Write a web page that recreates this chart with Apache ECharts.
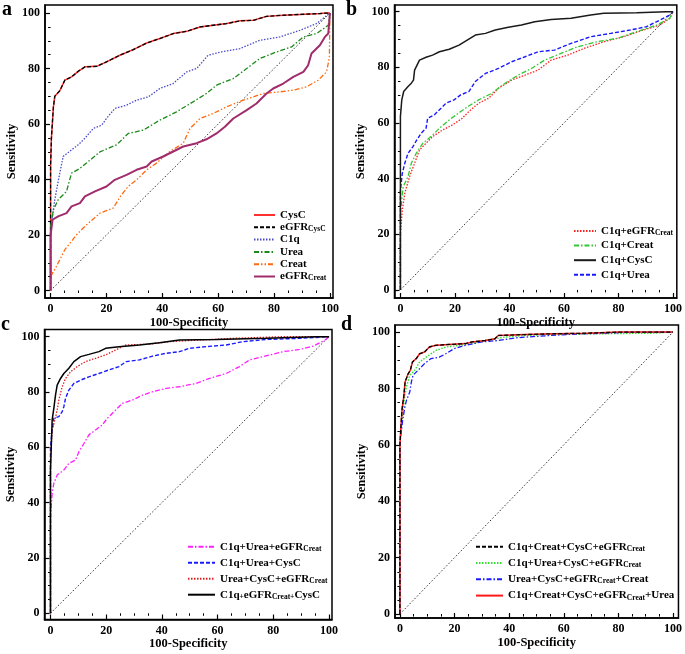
<!DOCTYPE html>
<html>
<head>
<meta charset="utf-8">
<script src="https://cdn.jsdelivr.net/npm/echarts@6/dist/echarts.min.js"></script>
<style>
  html, body { margin: 0; padding: 0; background: #fff; }
  #chart { width: 685px; height: 654px; }
</style>
</head>
<body>
<div id="chart"></div>
<script>
// axis ticks
const majorTicks = [0, 20, 40, 60, 80, 100];
const minorTicks = [5, 10, 15, 25, 30, 35, 45, 50, 55, 65, 70, 75, 85, 90, 95];
const diagonal = [[0, 0], [100, 100]];

// panel a: [100-specificity, sensitivity]
const aCysC = [[0,0],[0,45],[0.3,55],[1,66],[1.5,70],[3.3,72],[5.1,75.8],[7.5,77],[9.9,79],[12.3,80.6],[16.5,80.8],[20,82.4],[24.8,84.8],[29.6,86.8],[34.4,89.2],[39.1,90.8],[43.9,92.6],[48.7,93.4],[53.5,95],[58.2,95.6],[63,96.2],[67.8,97.2],[72.6,97.4],[77.3,98.8],[83.3,99.2],[89.3,99.5],[96.4,99.8],[98.8,100],[100,100]];
const aEgfrCysC = aCysC;
const aC1q = [[0,0],[0,22],[1.5,32.7],[2.7,39.3],[4.5,48.3],[7.5,50.7],[9.9,52.5],[12.3,54.9],[15.3,58.4],[18.3,59.6],[20,62],[23,65.6],[27.2,66.8],[30.8,68.6],[35,69.8],[39.1,72.8],[43.9,74.6],[48.7,78.8],[52.3,80],[56.4,84.8],[61.2,86],[67.8,87.2],[74.9,90.2],[82.1,91.4],[89.3,93.8],[95.2,96.2],[100,100]];
const aUrea = [[0,0],[0,23],[1,29],[2.7,32.7],[5.7,35.7],[7.5,42.3],[10.5,44],[14.1,47],[17.7,50],[23.6,52.5],[27.8,56.6],[33.2,57.8],[39.1,61.4],[45.1,64.4],[51,68],[55.8,71],[59.4,74],[65.4,76.4],[70.2,80],[74.9,83.6],[80.9,86],[86.3,87.8],[90.5,91.4],[95.2,92.6],[99.4,95.6],[100,100]];
const aCreat = [[0,0],[0,5],[2.1,8.7],[5.1,14.7],[9.3,20.1],[12.9,23.7],[17.7,27.9],[22.4,29.7],[25.4,34.5],[27.8,37.5],[30.8,39.9],[34.4,43.5],[37.9,45.9],[42.7,50.1],[47.5,53.1],[49.9,58.4],[53.5,62],[58.2,63.8],[63,66.2],[69,68.6],[76.1,71],[82.1,71.6],[86.9,72.2],[91.6,73.4],[95.8,75.8],[98.8,78.8],[99.8,84],[100,100]];
const aEgfrCreat = [[0,0],[0,20],[0.7,25.5],[2.7,26.7],[5.7,27.9],[7.5,30.3],[10.5,31.5],[12.3,33.9],[15.9,35.7],[20,37.5],[23,39.9],[27.2,41.7],[30.8,43.5],[34.4,44.7],[36.2,46.5],[40.3,48.3],[43.9,50.1],[47.5,51.9],[52.3,53.1],[55.8,54.5],[59.4,56.6],[62.4,59],[65.4,62],[70.2,65],[73.7,67.4],[77.3,71],[79.7,72.8],[83.3,74.6],[86.9,77],[90.5,78.8],[92.2,81.2],[93.4,85.4],[96.4,88.4],[98.2,91.4],[99.4,92.6],[99.8,97.4],[100,100]];

// panel b
const bC1qEgfrCreat = [[0,0],[0,20.4],[0.7,28.7],[1.6,34.7],[2.8,38.9],[4,42.5],[5.2,45.5],[7,50.3],[9.4,52.7],[11.8,55.1],[15.5,57.5],[19.1,59.3],[22.7,61.7],[25.1,64.1],[28.7,67.1],[32.4,68.9],[36,72.5],[40.8,75.4],[45.7,77.2],[50.5,79],[55.3,82.6],[61.4,84.4],[67.4,86.8],[74.6,89.2],[81.9,91],[89.1,93.4],[95.2,95.2],[98.8,97.6],[100,100]];
const bC1qCreat = [[0,0],[0,27.5],[1,37.1],[2.8,40.7],[4,45.5],[5.8,49.1],[8.2,52.7],[11.2,55.1],[14.3,58.1],[17.9,61.1],[22.1,64.1],[25.1,66.1],[28.7,68.3],[33.6,70.7],[38.4,74.3],[43.2,77.2],[48.1,79.6],[52.9,82.6],[58.9,85],[65,87.4],[72.2,89.2],[79.5,90.4],[86.7,92.8],[94,95.2],[98.8,97.6],[100,100]];
const bC1qCysC = [[0,0],[0,62.3],[0.5,68.3],[1.2,71.3],[2.8,73.1],[4,74.3],[4.8,75.4],[5.2,79],[7,82.6],[9.4,83.6],[11.8,84.4],[14.3,85.6],[17.9,86.5],[21.5,88],[24.5,89.8],[27.5,91.6],[31.2,92.2],[34.8,93.4],[39.6,94.4],[44.4,95.2],[49.3,96.4],[55.3,97.2],[62.6,97.6],[69.8,98.8],[74.6,99.4],[86.7,99.6],[97.6,100],[100,100]];
const bC1qUrea = [[0,0],[0,35.9],[0.7,41.9],[1.6,45.5],[2.8,49.1],[4.6,51.5],[6,53.9],[7.6,56.3],[9.4,58.1],[10,61.7],[12.4,62.9],[14.9,65.3],[16.7,67.1],[19.7,68.3],[22.1,70.1],[25.1,71.3],[27.5,74.9],[31.2,77.8],[36,79.6],[40.8,82],[45.7,83.8],[50.5,85.6],[56.5,86.2],[62.6,88.6],[69.8,91],[77.1,92.2],[84.3,93.4],[90.3,94.6],[95.2,97],[98.8,98.8],[100,100]];

// panel c
const cC1qUreaEgfrCreat = [[0,0],[0,34.9],[0.6,43.4],[1.2,47],[2.4,50],[4.8,51.8],[6.6,54.2],[9,55.4],[10.2,58.4],[12,61.4],[13.8,64.5],[16.2,66.3],[18.6,68.1],[20.4,70.5],[22.8,72.9],[25.8,75.9],[29.4,77.1],[33.1,78.9],[36.7,80.1],[41.5,81.3],[46.3,81.9],[52.3,83.1],[57.1,84.9],[63.1,86.7],[67.9,89.2],[71.5,91.6],[76.3,92.8],[83.5,94.6],[89.5,95.4],[94.4,96.6],[98.6,98.8],[100,100]];
const cC1qUreaCysC = [[0,0],[0,60.2],[0.6,66.3],[1.2,70.5],[3,71.1],[4.2,72.9],[4.8,74.7],[5.4,77.7],[6.6,80.7],[8.4,83.1],[10.8,84.3],[13.8,85.5],[17.4,86.7],[21,88],[24.6,89.2],[27.2,91],[31.9,91.6],[36.7,93],[41.5,94],[46.3,94.6],[49.9,95.8],[55.9,96.4],[63.1,97],[69.1,98.2],[77.5,99],[89.5,99.4],[100,100]];
const cUreaCysCEgfrCreat = [[0,0],[0,55.4],[0.6,66.3],[1.6,69.9],[2.4,73.5],[3,77.1],[4.2,81.9],[5.4,84.9],[7.2,87.3],[9.6,89.2],[12.6,91],[16.2,92.2],[19.8,93.4],[23.4,95.2],[27,97],[35.5,97.3],[42.7,98.2],[53.5,98.8],[65.5,99.4],[83.5,100],[100,100]];
const cC1qEgfrCreatCysC = [[0,0],[0,51.8],[0.6,69.9],[1.2,74.1],[1.8,78.9],[2.4,82.5],[3.6,84.9],[4.8,86.7],[6.6,88.6],[8.4,91],[10.8,92.8],[13.8,93.6],[17.4,94.6],[19.8,95.8],[24.6,96.4],[31.9,97],[39.1,97.8],[46.3,98.8],[59.5,99],[77.5,99.4],[95.6,100],[100,100]];

// panel d
const dAll5 = [[0,0],[0,59.9],[0.4,66.9],[0.8,72.8],[1.4,77],[1.9,82.3],[3,85.2],[3.8,86.4],[4.6,89.4],[6,90.6],[7.2,92.3],[9,92.9],[10.8,94.7],[13.2,95.3],[18,95.6],[24,95.9],[26.4,96.5],[31.2,97],[34.8,97.6],[36,98.8],[45.6,99.1],[56.4,99.4],[68.4,99.6],[80.4,100],[100,100]];
const dC1qCreatCysCEgfr = dAll5;
const dC1qUreaCysCEgfr = [[0,0],[0,60],[0.4,65.2],[1.2,72.3],[1.8,77.6],[2.4,80.5],[3.6,84.7],[5.4,86.4],[7.2,89.4],[9.6,91.1],[13.2,93.5],[16.8,94.7],[21.6,95.3],[26.4,95.9],[31.2,97],[38.4,98.2],[45.6,98.8],[56.4,99.2],[74.4,99.4],[92.4,99.6],[100,100]];
const dUreaCysCEgfrCreat = [[0,0],[0,60],[0.4,64],[1,68.7],[1.8,73.4],[2.4,75.8],[3.6,78.7],[4.2,82.3],[4.8,84.7],[6.6,86.4],[9,88.8],[11.4,90.6],[14.4,91.1],[16.8,92.3],[19.8,94.1],[24,95.3],[30,96.5],[36,97],[43.2,98],[50.4,98.5],[62.4,99.2],[86.4,100],[100,100]];

const serif = 'Liberation Serif';

const panels = [
  { left: 45, top: 5, width: 288, height: 293, x: [-2, 101.1], y: [-2.7, 102.9], nameGapY: 26 },
  { left: 394.5, top: 5, width: 286, height: 293, x: [-2.17, 101.4], y: [-2.9, 102.4], nameGapY: 25 },
  { left: 44.5, top: 329.5, width: 287.5, height: 290, x: [-2.15, 101.1], y: [-2.24, 102.6], nameGapY: 26 },
  { left: 395, top: 325, width: 288, height: 293, x: [-1.8, 102], y: [-1.4, 102.5], nameGapY: 25 }
];

const grid = [], xAxis = [], yAxis = [];
panels.forEach((p, i) => {
  grid.push({ left: p.left, top: p.top, width: p.width, height: p.height, show: true, borderColor: '#000', borderWidth: 1.5 });
  const labelStyle = { fontFamily: serif, fontWeight: 'bold', fontSize: 12, color: '#000' };
  const nameStyle = { fontFamily: serif, fontWeight: 'bold', fontSize: 12.5, color: '#000' };
  xAxis.push({
    type: 'value', gridIndex: i, min: p.x[0], max: p.x[1],
    axisLine: { onZero: false, lineStyle: { color: '#000', width: 1.5 } },
    axisTick: { inside: true, length: 5, customValues: majorTicks, lineStyle: { color: '#000', width: 1.2 } },
    axisLabel: { customValues: majorTicks, margin: 5, ...labelStyle },
    splitLine: { show: false },
    name: '100-Specificity', nameLocation: 'middle', nameGap: 18, nameTextStyle: nameStyle
  });
  xAxis.push({
    type: 'value', gridIndex: i, min: p.x[0], max: p.x[1],
    axisLine: { show: false },
    axisTick: { inside: true, length: 2.5, customValues: minorTicks, lineStyle: { color: '#000', width: 1 } },
    axisLabel: { show: false }, splitLine: { show: false }
  });
  yAxis.push({
    type: 'value', gridIndex: i, min: p.y[0], max: p.y[1],
    axisLine: { onZero: false, lineStyle: { color: '#000', width: 1.5 } },
    axisTick: { inside: true, length: 5, customValues: majorTicks, lineStyle: { color: '#000', width: 1.2 } },
    axisLabel: { customValues: majorTicks, margin: 5, ...labelStyle },
    splitLine: { show: false },
    name: 'Sensitivity', nameLocation: 'middle', nameGap: p.nameGapY, nameTextStyle: nameStyle
  });
  yAxis.push({
    type: 'value', gridIndex: i, min: p.y[0], max: p.y[1],
    axisLine: { show: false },
    axisTick: { inside: true, length: 2.5, customValues: minorTicks, lineStyle: { color: '#000', width: 1 } },
    axisLabel: { show: false }, splitLine: { show: false }
  });
});

function curve(name, data, g, color, type, width) {
  return {
    type: 'line', name, data, xAxisIndex: g * 2, yAxisIndex: g * 2,
    symbol: 'none', silent: true,
    lineStyle: { color, type, width: width || 1.3 },
    itemStyle: { color }
  };
}

const dot = [1.5, 1.5];
const dash = [4, 2];
const dashDot = [5, 2, 1.5, 2];
const dashDotDot = [5, 2, 1.5, 2, 1.5, 2];

const series = [
  curve('diag-a', diagonal, 0, '#333', [1.5, 2], 1),
  curve('CysC', aCysC, 0, '#ff3030', 'solid', 1.5),
  curve('eGFR[CysC]', aEgfrCysC, 0, '#000', dash, 1.3),
  curve('C1q', aC1q, 0, '#4a4ac8', dot, 1.3),
  curve('Urea', aUrea, 0, '#1a8a1a', dashDot, 1.3),
  curve('Creat', aCreat, 0, '#ff6a10', dashDotDot, 1.3),
  curve('eGFR[Creat]', aEgfrCreat, 0, '#a02c6c', 'solid', 2),

  curve('diag-b', diagonal, 1, '#333', [1.5, 2], 1),
  curve('C1q+eGFR[Creat]', bC1qEgfrCreat, 1, '#ff2020', dot, 1.3),
  curve('C1q+Creat', bC1qCreat, 1, '#30c830', dashDot, 1.3),
  curve('C1q+Urea', bC1qUrea, 1, '#1a1aff', dash, 1.4),
  curve('C1q+CysC', bC1qCysC, 1, '#1a1a1a', 'solid', 1.5),

  curve('diag-c', diagonal, 2, '#333', [1.5, 2], 1),
  curve('C1q+Urea+eGFR[Creat]', cC1qUreaEgfrCreat, 2, '#ff20ff', dashDot, 1.3),
  curve('C1q+Urea+CysC', cC1qUreaCysC, 2, '#1a1aff', dash, 1.4),
  curve('Urea+CysC+eGFR[Creat]', cUreaCysCEgfrCreat, 2, '#e02020', dot, 1.3),
  curve('C1q[+]eGFR[Creat+]CysC', cC1qEgfrCreatCysC, 2, '#000', 'solid', 1.5),

  curve('diag-d', diagonal, 3, '#333', [1.5, 2], 1),
  curve('C1q+Urea+CysC+eGFR[Creat]', dC1qUreaCysCEgfr, 3, '#30e030', dot, 1.4),
  curve('Urea+CysC+eGFR[Creat]+Creat', dUreaCysCEgfrCreat, 3, '#1a1aff', dashDot, 1.3),
  curve('C1q+Creat+CysC+eGFR[Creat]+Urea', dAll5, 3, '#ff1a1a', 'solid', 1.5),
  curve('C1q+Creat+CysC+eGFR[Creat]', dC1qCreatCysCEgfr, 3, '#000', dash, 1.3)
];

function fmt(name) {
  return name.replace(/\[([^\]]+)\]/g, '{sub|$1}');
}

function legend(data, left, top, itemWidth, itemGap) {
  return {
    data, orient: 'vertical', left, top, itemWidth, itemHeight: 10, itemGap,
    padding: 0, selectedMode: false, formatter: fmt,
    itemStyle: { opacity: 0 },
    textStyle: {
      fontFamily: serif, fontWeight: 'bold', fontSize: 11, lineHeight: 12, color: '#000',
      rich: { sub: { fontFamily: serif, fontWeight: 'bold', fontSize: 7.5, lineHeight: 12, verticalAlign: 'bottom', padding: [3, 0, 0, 0], color: '#000' } }
    }
  };
}

const option = {
  animation: false,
  backgroundColor: '#fff',
  title: [
    { text: 'a', left: 2, top: 0 },
    { text: 'b', left: 346, top: 0 },
    { text: 'c', left: 1, top: 315 },
    { text: 'd', left: 341, top: 315 }
  ].map(t => ({ ...t, padding: 0, textStyle: { fontFamily: serif, fontWeight: 'bold', fontSize: 20, color: '#000' } })),
  grid, xAxis, yAxis, series,
  legend: [
    legend(['CysC', 'eGFR[CysC]', 'C1q', 'Urea', 'Creat', 'eGFR[Creat]'], 253, 209, 21, 0.3),
    legend(['C1q+eGFR[Creat]', 'C1q+Creat', 'C1q+CysC', 'C1q+Urea'], 573, 225, 22, 2.6),
    legend(['C1q+Urea+eGFR[Creat]', 'C1q+Urea+CysC', 'Urea+CysC+eGFR[Creat]', 'C1q[+]eGFR[Creat+]CysC'], 187, 540.7, 27, 4),
    legend(['C1q+Creat+CysC+eGFR[Creat]', 'C1q+Urea+CysC+eGFR[Creat]', 'Urea+CysC+eGFR[Creat]+Creat', 'C1q+Creat+CysC+eGFR[Creat]+Urea'], 475, 540.7, 27, 4.3)
  ]
};

const myChart = echarts.init(document.getElementById('chart'));
myChart.setOption(option);
</script>
</body>
</html>
